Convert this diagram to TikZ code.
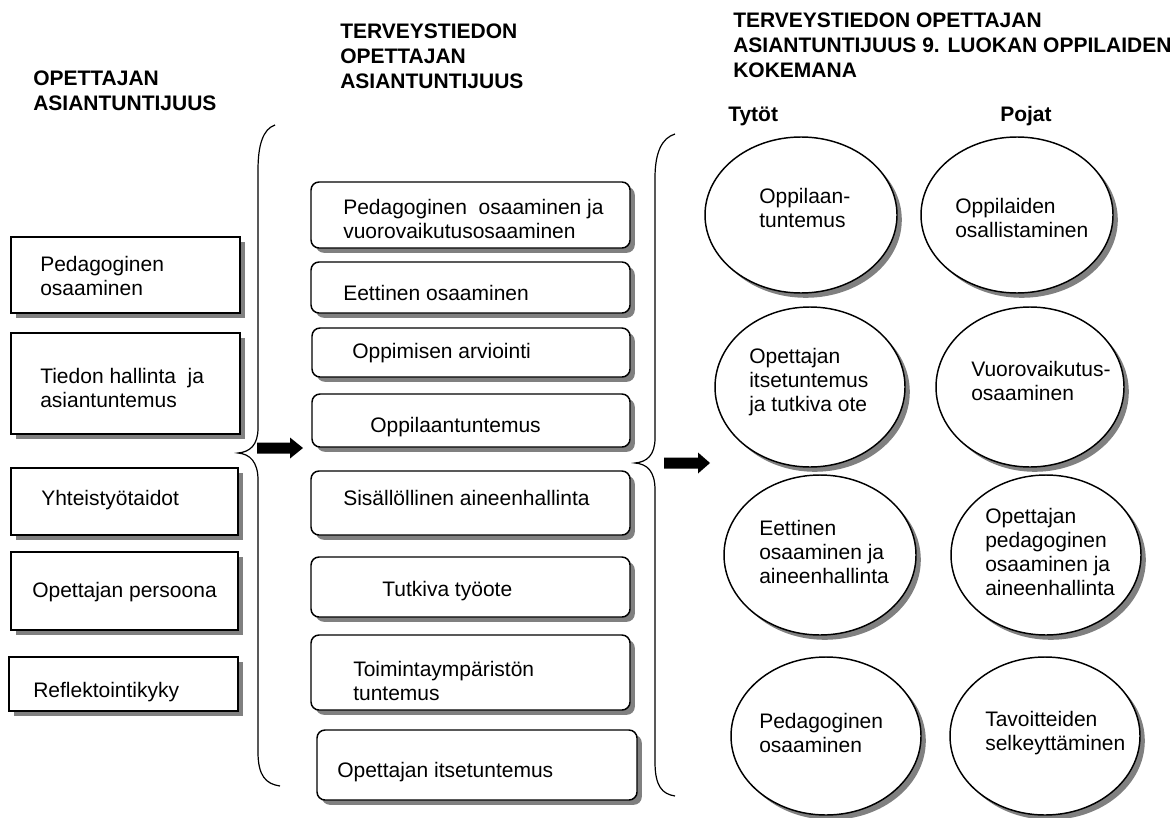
\documentclass[tikz,border=0pt]{standalone}
\usepackage{fontspec}
\setmainfont{Liberation Sans}
\usetikzlibrary{shapes.geometric,shadows,fit}
\tikzset{
  shad/.style={drop shadow={shadow xshift=3.6pt, shadow yshift=-3.6pt, fill=black!50, opacity=1}},
  lbox/.style={draw, line width=1.1pt, fill=white, inner sep=0pt, rectangle, shad},
  mbox/.style={draw, line width=1.1pt, fill=white, inner sep=0pt, rectangle, rounded corners=6pt, shad},
  ell/.style 2 args={draw, line width=1.1pt, fill=white, ellipse, inner sep=0pt, minimum width=#1*0.75pt, minimum height=#2*0.75pt, shad},
  txt/.style={anchor=west, inner sep=0pt, align=left, font=\fontsize{15.75pt}{18pt}\selectfont},
  head/.style={anchor=west, inner sep=0pt, align=left, font=\fontsize{15.75pt}{18.75pt}\selectfont\bfseries},
  brace/.style={line width=0.9pt},
  blockarrow/.style={fill=black, draw=none}
}
\begin{document}
\begin{tikzpicture}[x=0.75pt, y=-0.75pt]
\useasboundingbox (0,0) rectangle (1173,817);

% headers
\node[head] (h1) at (33,91) {OPETTAJAN\\ASIANTUNTIJUUS};
\node[head] (h2) at (340,56) {TERVEYSTIEDON\\OPETTAJAN\\ASIANTUNTIJUUS};
\node[head] (h3) at (733,45) {TERVEYSTIEDON OPETTAJAN\\ASIANTUNTIJUUS 9. LUOKAN OPPILAIDEN\\KOKEMANA};
\node[head] (h4) at (728,116) {Tytöt};
\node[head] (h5) at (1000,116) {Pojat};

% left boxes
\node[lbox, fit={(11,237) (240,313)}] (L1) {};
\node[txt] (tL1) at (40,276) {Pedagoginen\\osaaminen};
\node[lbox, fit={(11,333) (240,434)}] (L2) {};
\node[txt] (tL2) at (40,388) {Tiedon hallinta\ \ ja\\asiantuntemus};
\node[lbox, fit={(11,468) (238,535)}] (L3) {};
\node[txt] (tL3) at (41,500) {Yhteistyötaidot};
\node[lbox, fit={(11,552) (238,630)}] (L4) {};
\node[txt] (tL4) at (32,592) {Opettajan persoona};
\node[lbox, fit={(9,657) (238,711)}] (L5) {};
\node[txt] (tL5) at (33,692) {Reflektointikyky};

% left brace
\draw[brace] (275,125) .. controls (263,129) and (258,145) .. (258,170)
  -- (258,428) .. controls (258,445) and (250,452) .. (238,453)
  .. controls (250,454) and (258,462) .. (258,480)
  -- (258,752) .. controls (258,776) and (266,784) .. (280,786);

% left arrow
\fill[blockarrow] (257,442.5) -- (290,442.5) -- (290,437.5) -- (303,448) -- (290,458.5) -- (290,453.5) -- (257,453.5) -- cycle;

% middle boxes
\node[mbox, fit={(311,182) (630,248)}] (M1) {};
\node[txt] (tM1) at (343,219) {Pedagoginen\ \ osaaminen ja\\vuorovaikutusosaaminen};
\node[mbox, fit={(311,262) (630,313)}] (M2) {};
\node[txt] (tM2) at (343,293) {Eettinen osaaminen};
\node[mbox, fit={(312,328) (630,377)}] (M3) {};
\node[txt] (tM3) at (352,353) {Oppimisen arviointi};
\node[mbox, fit={(312,394) (630,447)}] (M4) {};
\node[txt] (tM4) at (370,427) {Oppilaantuntemus};
\node[mbox, fit={(311,471) (630,535)}] (M5) {};
\node[txt] (tM5) at (343,498) {Sisällöllinen aineenhallinta};
\node[mbox, fit={(311,557) (630,617)}] (M6) {};
\node[txt] (tM6) at (382,591) {Tutkiva työote};
\node[mbox, fit={(311,635) (630,710)}] (M7) {};
\node[txt] (tM7) at (353,681) {Toimintaympäristön\\tuntemus};
\node[mbox, fit={(317,730) (637,800)}] (M8) {};
\node[txt] (tM8) at (337,772) {Opettajan itsetuntemus};

% right brace
\draw[brace] (675,134) .. controls (662,138) and (655,152) .. (655,178)
  -- (655,438) .. controls (655,455) and (647,462) .. (635,463)
  .. controls (647,464) and (655,471) .. (655,490)
  -- (655,762) .. controls (655,786) and (662,794) .. (675,796);

% right arrow
\fill[blockarrow] (664,457.5) -- (698,457.5) -- (698,452.5) -- (710,463) -- (698,473.5) -- (698,468.5) -- (664,468.5) -- cycle;

% ellipses
\node[ell={192}{156}] (E1) at (801,215) {};
\node[txt] (tE1) at (759,208) {Oppilaan-\\tuntemus};
\node[ell={192}{156}] (E2) at (1017,215) {};
\node[txt] (tE2) at (955,218) {Oppilaiden\\osallistaminen};
\node[ell={190}{160}] (E3) at (810,387) {};
\node[txt] (tE3) at (749,382) {Opettajan\\itsetuntemus\\ja tutkiva ote};
\node[ell={188}{160}] (E4) at (1030,387) {};
\node[txt] (tE4) at (971,381) {Vuorovaikutus-\\osaaminen};
\node[ell={192}{160}] (E5) at (820,555) {};
\node[txt] (tE5) at (759,552) {Eettinen\\osaaminen ja\\aineenhallinta};
\node[ell={190}{160}] (E6) at (1046,555) {};
\node[txt] (tE6) at (985,552) {Opettajan\\pedagoginen\\osaaminen ja\\aineenhallinta};
\node[ell={190}{158}] (E7) at (826,736) {};
\node[txt] (tE7) at (759,733) {Pedagoginen\\osaaminen};
\node[ell={190}{158}] (E8) at (1045,736) {};
\node[txt] (tE8) at (985,733) {Tavoitteiden\\selkeyttäminen};
\end{tikzpicture}
\end{document}
